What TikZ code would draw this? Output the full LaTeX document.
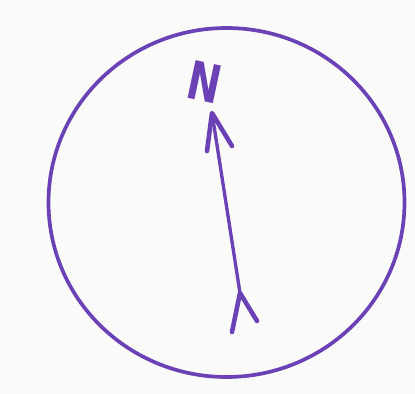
\documentclass[tikz,border=0pt]{standalone}
\usepackage{fontspec}
\setsansfont{DejaVu Sans}
\usetikzlibrary{calc}
\definecolor{Ink}{HTML}{6A42B5}
\definecolor{Paper}{HTML}{FAFAF8}
\tikzset{
  rim/.style={draw=Ink,line width=1.05pt},
  needle/.style={draw=Ink,line width=0.95pt,line cap=round},
  barb/.style={draw=Ink,line width=1.3pt,line cap=round,line join=round},
  letter/.style={text=Ink,inner sep=0pt,font=\sffamily\bfseries\fontsize{15}{18}\selectfont},
}
\begin{document}
\begin{tikzpicture}[x=0.01cm,y=-0.01cm]
        \fill[Paper] (0,0) rectangle (415,394);
        \useasboundingbox (0,0) rectangle (415,394);
        \draw[rim] (226.5,202.5) ellipse [x radius=178,y radius=174.5];
        \coordinate (tip) at (212,113);
        \coordinate (tail) at (240,293);
        \node[letter,rotate=-12,xscale=0.75] (n) at (205,82) {N};
        % needle
        \draw[needle] (tip) -- (tail);
        \draw[barb] (207,151) -- (tip) -- (232,146);
        \draw[barb] (232,332) -- (tail) -- (257,321);
      \end{tikzpicture}
\end{document}
